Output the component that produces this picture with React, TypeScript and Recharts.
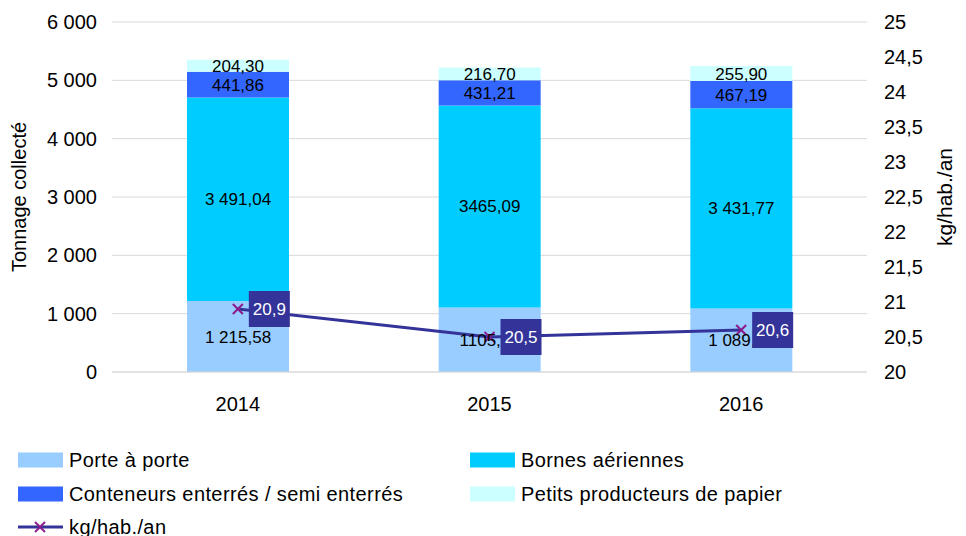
import React from 'react';
import { ComposedChart, Bar, Line, XAxis, YAxis, CartesianGrid, LabelList } from 'recharts';

const years = ['2014', '2015', '2016'];
const porteAPorte = [1215.58, 1105.3, 1089.4];
const bornesAeriennes = [3491.04, 3465.09, 3431.77];
const conteneurs = [441.86, 431.21, 467.19];
const petitsProducteurs = [204.3, 216.7, 255.9];
const kgHabAn = [20.9, 20.5, 20.6];

const porteLabels = ['1 215,58', '1105,30', '1 089,40'];
const bornesLabels = ['3 491,04', '3465,09', '3 431,77'];
const conteneursLabels = ['441,86', '431,21', '467,19'];
const petitsLabels = ['204,30', '216,70', '255,90'];

const leftTicks = [0, 1000, 2000, 3000, 4000, 5000, 6000];
const rightTicks = [20, 20.5, 21, 21.5, 22, 22.5, 23, 23.5, 24, 24.5, 25];

const COLORS = {
  porte: '#99CCFF',
  bornes: '#00CCFF',
  conteneurs: '#3366FF',
  petits: '#CCFFFF',
  line: '#333399',
  marker: '#8B1C8B',
};

const data = years.map((y, i) => ({
  year: y,
  porte: porteAPorte[i],
  bornes: bornesAeriennes[i],
  conteneurs: conteneurs[i],
  petits: petitsProducteurs[i],
  kg: kgHabAn[i],
  porteLabel: porteLabels[i],
  bornesLabel: bornesLabels[i],
  conteneursLabel: conteneursLabels[i],
  petitsLabel: petitsLabels[i],
}));

const fmtThousands = (v: number) => String(v).replace(/\B(?=(\d{3})+(?!\d))/g, ' ');
const fmtComma = (v: number) => String(v).replace('.', ',');

const XDot = (props: any) => {
  const { cx, cy } = props;
  if (cx == null || cy == null) return null;
  const s = 5;
  return (
    <g>
      <line x1={cx - s} y1={cy - s} x2={cx + s} y2={cy + s} stroke={COLORS.marker} strokeWidth={2} />
      <line x1={cx - s} y1={cy + s} x2={cx + s} y2={cy - s} stroke={COLORS.marker} strokeWidth={2} />
    </g>
  );
};

const LineLabel = (props: any) => {
  const { x, y, value } = props;
  return (
    <g>
      <rect x={x + 11} y={y - 18} width={41} height={36} fill={COLORS.line} />
      <text x={x + 31.5} y={y + 6} fill="#FFFFFF" fontSize={17} textAnchor="middle">
        {fmtComma(value)}
      </text>
    </g>
  );
};

const LeftTitle = (props: any) => {
  const { viewBox } = props;
  const cy = viewBox.y + viewBox.height / 2;
  const cx = 19;
  return (
    <text x={cx} y={cy} transform={`rotate(-90 ${cx} ${cy})`} textAnchor="middle" dominantBaseline="central" fontSize={20} fill="#000">
      Tonnage collecté
    </text>
  );
};

const RightTitle = (props: any) => {
  const { viewBox } = props;
  const cy = viewBox.y + viewBox.height / 2;
  const cx = 944;
  return (
    <text x={cx} y={cy} transform={`rotate(-90 ${cx} ${cy})`} textAnchor="middle" dominantBaseline="central" fontSize={21} fill="#000">
      kg/hab./an
    </text>
  );
};

const legendItems = [
  { name: 'Porte à porte', color: COLORS.porte, col: 0, row: 0, type: 'rect' },
  { name: 'Bornes aériennes', color: COLORS.bornes, col: 1, row: 0, type: 'rect' },
  { name: 'Conteneurs enterrés / semi enterrés', color: COLORS.conteneurs, col: 0, row: 1, type: 'rect' },
  { name: 'Petits producteurs de papier', color: COLORS.petits, col: 1, row: 1, type: 'rect' },
  { name: 'kg/hab./an', color: COLORS.line, col: 0, row: 2, type: 'line' },
];

const colX = [18, 470];
const rowY = [460, 493.5, 527];

export default function App() {
  return (
    <div style={{ position: 'absolute', left: 0, top: 0, width: 966, height: 536, background: '#fff', fontFamily: '"Liberation Sans", Arial, sans-serif', overflow: 'hidden' }}>
      <ComposedChart width={966} height={440} data={data} margin={{ top: 22, right: 0, bottom: 38, left: 0 }}>
        <CartesianGrid yAxisId="left" vertical={false} stroke="#D9D9D9" />
        <XAxis
          dataKey="year"
          height={30}
          axisLine={{ stroke: '#D9D9D9' }}
          tickLine={false}
          tickSize={6}
          tickMargin={19}
          tick={{ fill: '#000', fontSize: 20 }}
        />
        <YAxis
          yAxisId="left"
          width={112}
          domain={[0, 6000]}
          ticks={leftTicks}
          axisLine={false}
          tickLine={false}
          tickSize={6}
          tickMargin={9}
          tickFormatter={fmtThousands}
          tick={{ fill: '#000', fontSize: 20 }}
          label={<LeftTitle />}
        />
        <YAxis
          yAxisId="right"
          orientation="right"
          width={99}
          domain={[20, 25]}
          ticks={rightTicks}
          axisLine={false}
          tickLine={false}
          tickSize={6}
          tickMargin={11}
          tickFormatter={fmtComma}
          tick={{ fill: '#000', fontSize: 20 }}
          label={<RightTitle />}
        />
        <Bar yAxisId="left" dataKey="porte" stackId="a" fill={COLORS.porte} barSize={102} isAnimationActive={false}>
          <LabelList dataKey="porteLabel" position="center" fill="#000" fontSize={17} />
        </Bar>
        <Bar yAxisId="left" dataKey="bornes" stackId="a" fill={COLORS.bornes} barSize={102} isAnimationActive={false}>
          <LabelList dataKey="bornesLabel" position="center" fill="#000" fontSize={17} />
        </Bar>
        <Bar yAxisId="left" dataKey="conteneurs" stackId="a" fill={COLORS.conteneurs} barSize={102} isAnimationActive={false}>
          <LabelList dataKey="conteneursLabel" position="center" fill="#000" fontSize={17} />
        </Bar>
        <Bar yAxisId="left" dataKey="petits" stackId="a" fill={COLORS.petits} barSize={102} isAnimationActive={false}>
          <LabelList dataKey="petitsLabel" position="center" fill="#000" fontSize={17} />
        </Bar>
        <Line
          yAxisId="right"
          type="linear"
          dataKey="kg"
          stroke={COLORS.line}
          strokeWidth={3}
          dot={<XDot />}
          activeDot={false}
          isAnimationActive={false}
        >
          <LabelList dataKey="kg" content={<LineLabel />} />
        </Line>
      </ComposedChart>
      {legendItems.map((it) => {
        const x = colX[it.col];
        const y = rowY[it.row];
        return (
          <div key={it.name} style={{ position: 'absolute', left: x, top: y - 15, height: 30, width: 440 }}>
            <svg width={46} height={30} style={{ position: 'absolute', left: 0, top: 0 }}>
              {it.type === 'rect' ? (
                <rect x={0} y={7.5} width={45} height={15} fill={it.color} />
              ) : (
                <g>
                  <line x1={0} y1={15} x2={45} y2={15} stroke={it.color} strokeWidth={3} />
                  <line x1={17} y1={10} x2={27} y2={20} stroke={COLORS.marker} strokeWidth={2} />
                  <line x1={17} y1={20} x2={27} y2={10} stroke={COLORS.marker} strokeWidth={2} />
                </g>
              )}
            </svg>
            <span style={{ position: 'absolute', left: 51, top: 0, lineHeight: '30px', fontSize: 20, letterSpacing: 0.4, color: '#000', whiteSpace: 'nowrap' }}>
              {it.name}
            </span>
          </div>
        );
      })}
    </div>
  );
}
